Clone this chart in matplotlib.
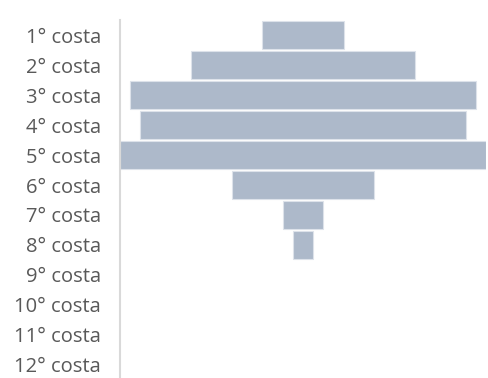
import matplotlib
matplotlib.use("Agg")
import matplotlib.pyplot as plt
import numpy as np

# Number of items per row ("costa"), drawn as a centred funnel
categories = ["1° costa", "2° costa", "3° costa", "4° costa", "5° costa", "6° costa",
              "7° costa", "8° costa", "9° costa", "10° costa", "11° costa", "12° costa"]
values = [4, 11, 17, 16, 18, 7, 2, 1, 0, 0, 0, 0]

bar_color = "#adb9ca"
text_color = "#595959"

fig = plt.figure(figsize=(4.89, 3.78), dpi=100)
ax = fig.add_axes([120 / 489, -2 / 378, 366 / 489, 360 / 378])

vmax = max(values)
offsets = [(vmax - v) / 2 for v in values]
y = np.arange(len(categories))
edges = ["#dde2ea" if v > 0 else "none" for v in values]

ax.barh(y, values, left=offsets, height=0.95, color=bar_color,
        edgecolor=edges, linewidth=0.8)

ax.set_xlim(0, vmax)
ax.set_ylim(len(categories) - 0.5, -0.5)
ax.set_yticks(y)
ax.set_yticklabels(categories, fontfamily="Open Sans", fontsize=14.5, color=text_color)
ax.tick_params(axis="y", length=0, pad=13.5)
ax.set_xticks([])

for side in ("top", "right", "bottom"):
    ax.spines[side].set_visible(False)
ax.spines["left"].set_color("#d9d9d9")
ax.spines["left"].set_linewidth(1.5)

fig.savefig("out.png", dpi=100)
